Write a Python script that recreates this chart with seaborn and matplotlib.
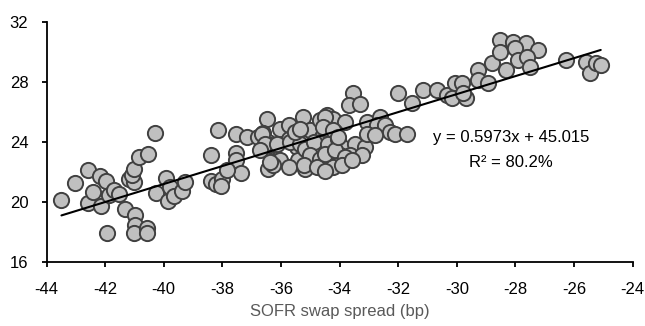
import numpy as np
import pandas as pd
import matplotlib
matplotlib.use("Agg")
import matplotlib.pyplot as plt
import seaborn as sns

# SOFR swap spread (bp)
spread = [
    -43.49, -43.04, -42.58, -42.58, -42.43, -42.16, -41.96, -42.14, -41.88, -41.71,
    -41.92, -41.53, -41.33, -41.20, -41.03, -41.09, -41.03, -40.97, -40.97, -41.03,
    -40.84, -40.55, -40.57, -40.57, -40.29, -40.27, -39.93, -39.80, -39.87, -39.66,
    -39.38, -39.26, -38.40, -38.15, -38.38, -38.22, -38.02, -38.06,
    -37.53, -37.15, -37.53, -37.55, -37.36, -37.84, -36.48, -36.60, -36.77, -36.43,
    -36.31, -36.48, -36.03, -35.72, -35.25, -35.02, -34.66, -35.74, -35.46, -36.03,
    -36.43, -36.26, -35.43, -35.18, -35.06, -34.78, -34.61, -34.55, -36.65, -36.37,
    -36.54, -36.14, -35.69, -35.35, -35.18, -36.71, -36.37, -35.74, -35.52, -34.44,
    -34.21, -33.81, -35.35, -34.50, -34.15, -34.89, -34.38, -34.04, -33.93, -33.47,
    -33.13, -35.00, -34.66, -34.44, -33.98, -33.64, -35.23, -34.78, -34.21, -34.50,
    -34.15, -33.81, -33.25, -34.50, -33.93, -33.59, -33.53, -33.67, -33.30, -34.50,
    -34.55, -34.21, -34.04, -33.08, -32.62, -32.74, -32.45, -32.28, -32.11, -31.71,
    -33.08, -32.79,
    -32.00, -31.52, -31.15, -30.69, -30.35, -30.07, -29.84, -30.18, -29.67, -29.78,
    -29.27, -29.27, -28.95, -28.81, -28.53, -28.08, -27.65, -28.53, -28.02, -27.23,
    -27.91, -27.62, -27.51, -28.31, -26.26, -25.58, -25.47, -25.24, -25.09,
]
# Dependent variable
value = [
    20.16, 21.27, 22.16, 19.95, 20.65, 21.72, 21.42, 19.78, 20.45, 20.83,
    17.98, 20.56, 19.58, 21.56, 21.33, 21.78, 22.20, 19.15, 18.52, 17.98,
    23.00, 23.20, 18.30, 17.96, 24.60, 20.62, 21.62, 21.02, 20.11, 20.40,
    20.78, 21.33, 23.16, 24.82, 21.38, 21.20, 21.56, 21.05,
    24.50, 24.30, 23.25, 22.78, 21.95, 22.11, 25.56, 24.62, 24.33, 24.00,
    23.67, 23.56, 24.85, 25.11, 25.63, 24.82, 25.45, 24.22, 23.67, 22.78,
    22.20, 22.45, 22.80, 22.23, 23.23, 22.78, 24.33, 23.45, 24.56, 23.80,
    23.90, 23.89, 24.00, 23.89, 23.56, 23.45, 22.67, 22.33, 24.67, 25.78,
    25.56, 25.33, 24.89, 24.89, 24.67, 24.00, 23.89, 24.22, 23.67, 23.89,
    23.67, 23.11, 22.89, 22.45, 23.11, 23.11, 22.45, 22.33, 22.33, 23.23,
    23.45, 23.00, 23.11, 22.10, 22.45, 22.78, 27.23, 26.45, 26.50, 25.67,
    25.00, 24.78, 24.33, 25.33, 25.67, 25.11, 25.11, 24.67, 24.56, 24.56,
    24.56, 24.45,
    27.25, 26.58, 27.45, 27.45, 27.11, 27.89, 27.89, 26.90, 26.90, 27.23,
    28.78, 28.11, 27.89, 29.27, 30.78, 30.67, 30.60, 30.00, 30.22, 30.11,
    29.45, 29.67, 29.00, 28.78, 29.45, 29.34, 28.56, 29.22, 29.11,
]
x_ticks = [-44, -42, -40, -38, -36, -34, -32, -30, -28, -26, -24]
y_ticks = [16, 20, 24, 28, 32]
equation_text = "y = 0.5973x + 45.015"
r2_text = "R² = 80.2%"
x_label = "SOFR swap spread (bp)"

df = pd.DataFrame({"spread": spread, "value": value})

sns.set_style("white")
plt.rcParams["font.family"] = ["Liberation Sans", "DejaVu Sans"]

fig = plt.figure(figsize=(6.45, 3.26), dpi=100)
ax = fig.add_axes([0.0721, 0.1948, 0.9088, 0.7392])

sns.regplot(
    data=df, x="spread", y="value", ax=ax, ci=None, truncate=True,
    scatter_kws=dict(s=120, color="#c0c0c0", edgecolors="#404040", linewidths=1.4, alpha=1, zorder=2),
    line_kws=dict(color="black", lw=1.5, zorder=3),
)

ax.set_xlim(-44, -24)
ax.set_ylim(16, 32)
ax.set_xticks(x_ticks)
ax.set_yticks(y_ticks)
ax.set_xticklabels([str(t) for t in x_ticks])
ax.set_yticklabels([str(t) for t in y_ticks])
ax.tick_params(axis="both", which="both", direction="out", length=3.6, width=1.3,
               color="black", labelsize=12, labelcolor="#000000",
               bottom=True, left=True)
ax.tick_params(axis="x", pad=10.5)
ax.tick_params(axis="y", pad=9.5)
for side in ["top", "right"]:
    ax.spines[side].set_visible(False)
for side in ["left", "bottom"]:
    ax.spines[side].set_color("black")
    ax.spines[side].set_linewidth(1.3)
ax.set_xlabel(x_label, fontsize=12, color="#595959", labelpad=5)
ax.set_ylabel("")
ax.grid(False)

ax.text(-28.15, 24.31, equation_text, ha="center", va="center", fontsize=12, color="black")
ax.text(-28.15, 22.65, r2_text, ha="center", va="center", fontsize=12, color="black")

fig.savefig("out.png", dpi=100)
